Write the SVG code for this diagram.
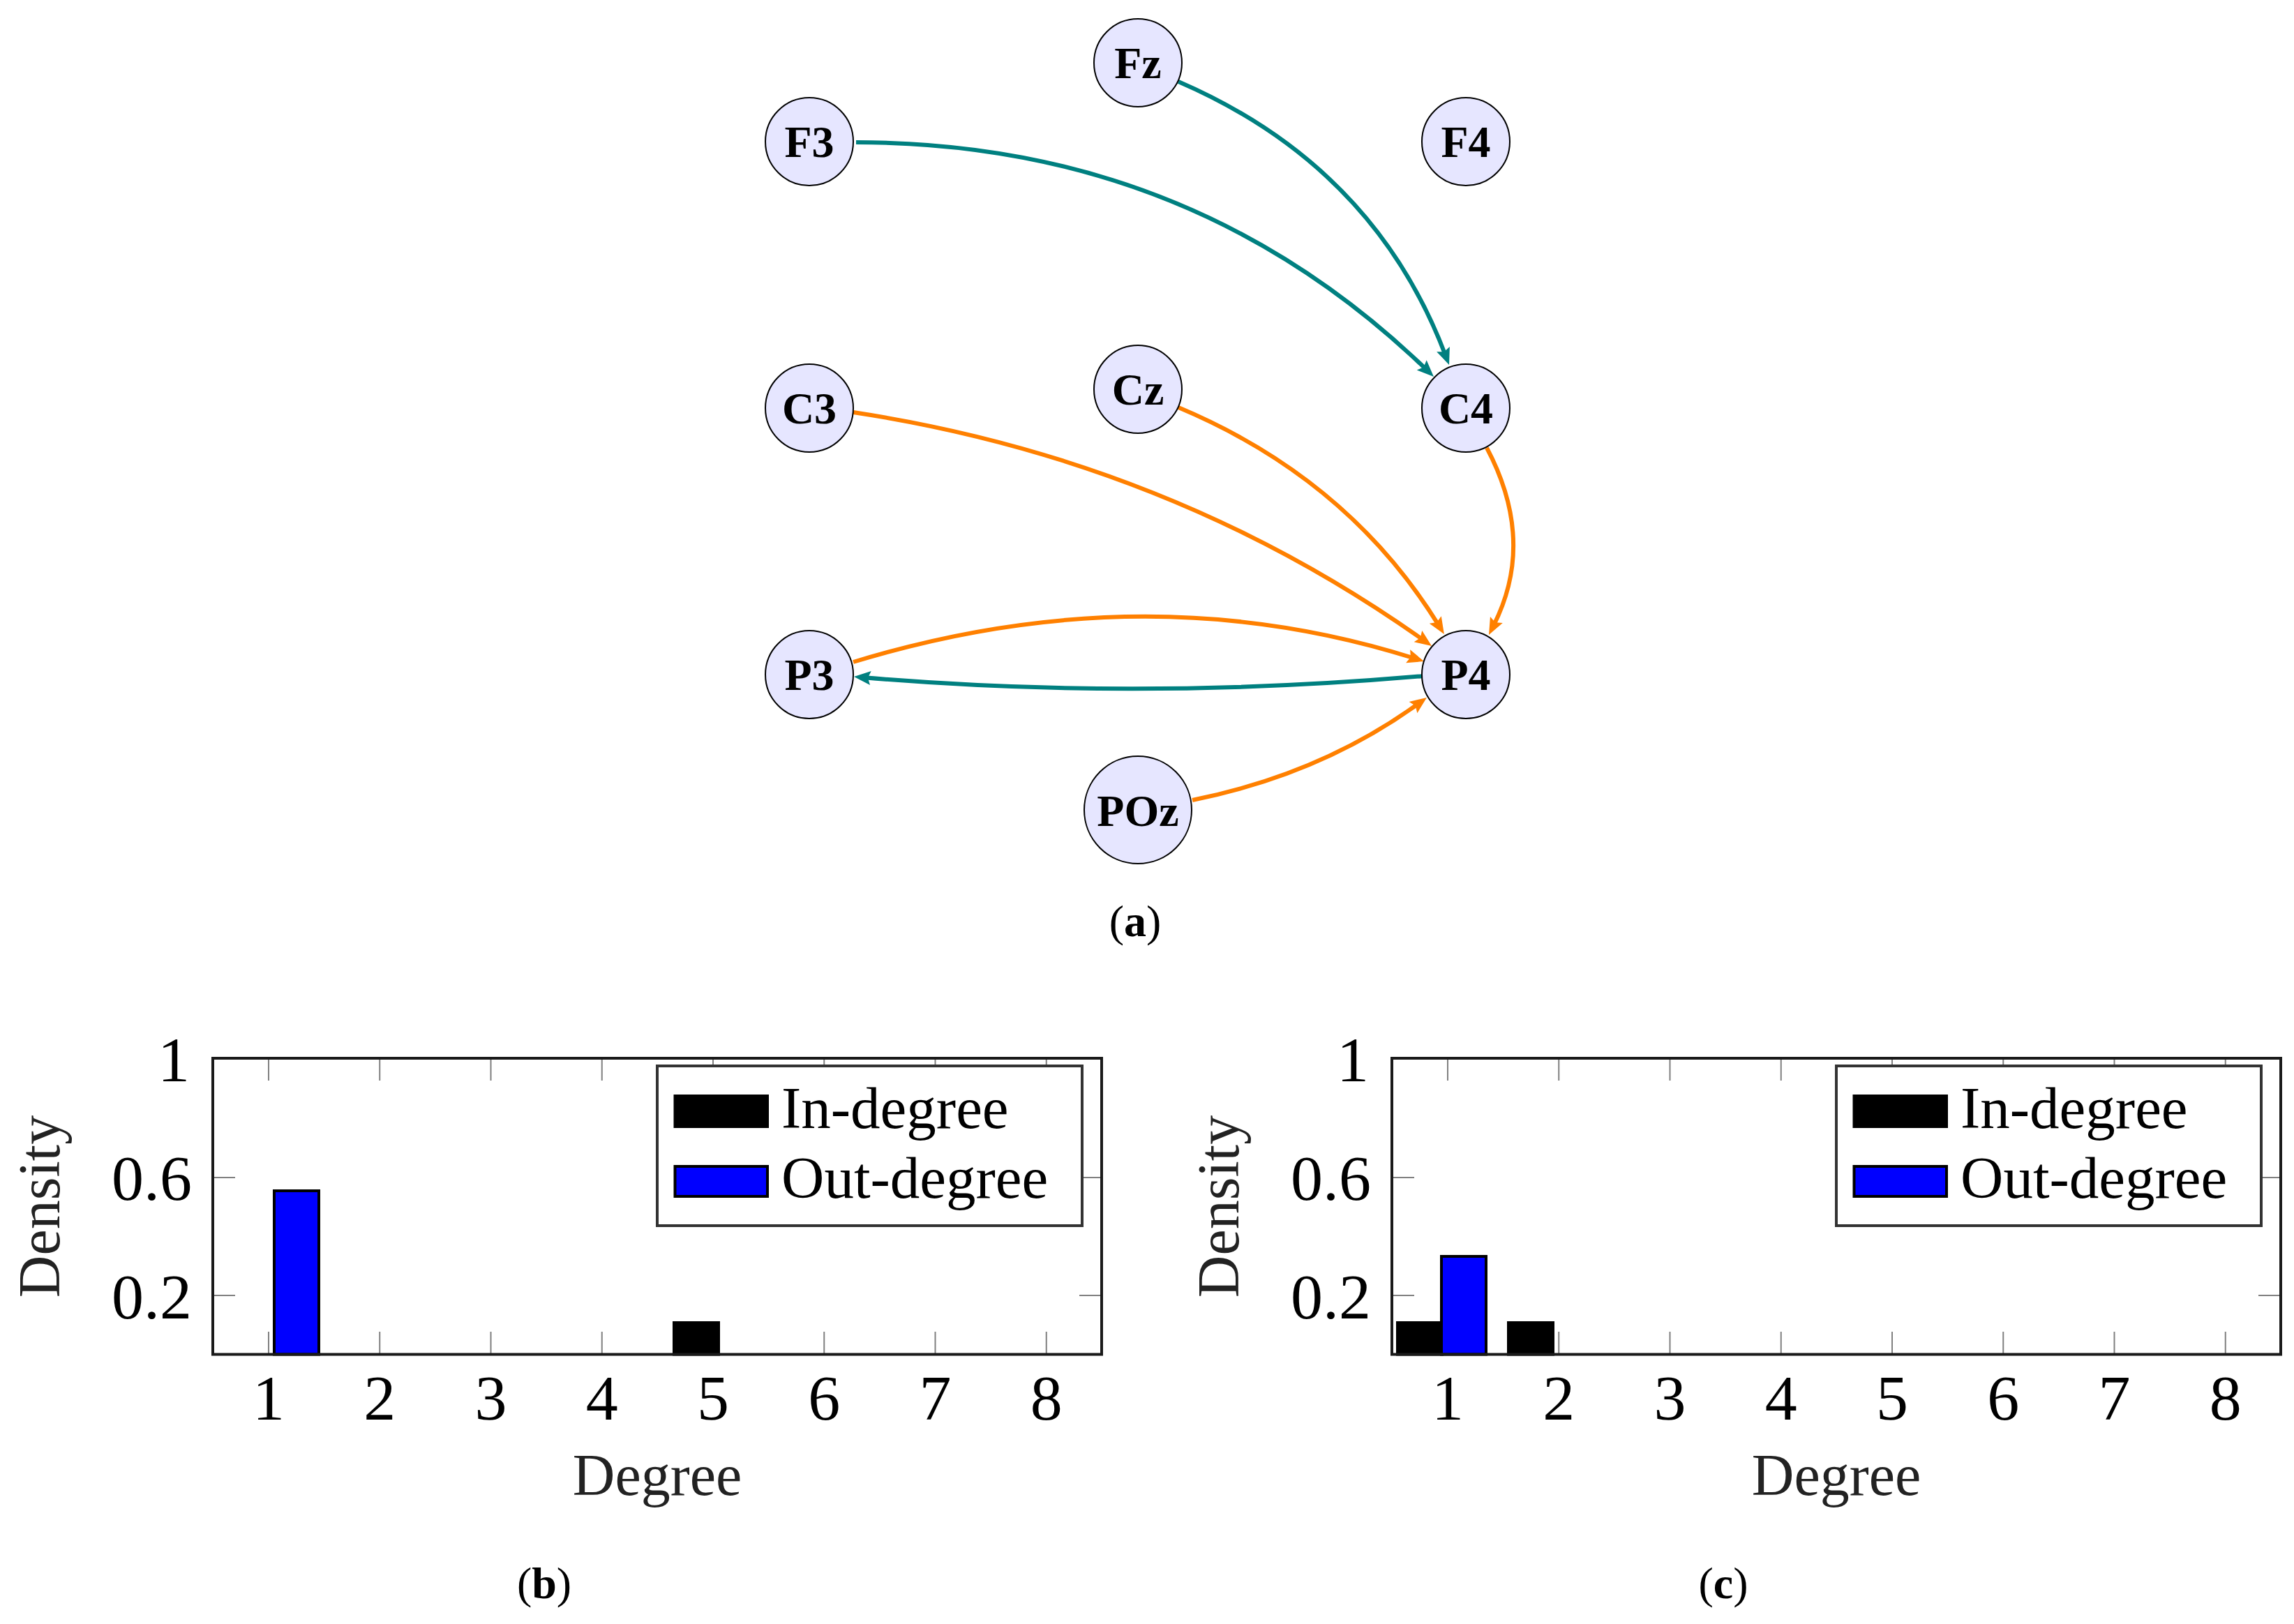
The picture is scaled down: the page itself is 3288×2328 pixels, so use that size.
<svg xmlns="http://www.w3.org/2000/svg" width="3288" height="2328" viewBox="0 0 3288 2328">
<style>
.node circle{fill:#E6E6FF;stroke:#000;stroke-width:2}
.node text{font-family:"Liberation Serif",serif;font-weight:bold;font-size:64px;text-anchor:middle;fill:#000}
.e{fill:none;stroke-width:6}
.teal{stroke:#008080}
.orange{stroke:#FF8000}
.tk{stroke:#808080;stroke-width:2}
.frame{fill:none;stroke:#1a1a1a;stroke-width:4}
.num{font-family:"Liberation Serif",serif;font-size:92px;fill:#000}
.ax{font-family:"Liberation Serif",serif;font-size:84px;fill:#222;text-anchor:middle}
.leg{font-family:"Liberation Serif",serif;font-size:85px;fill:#000}
.cap{font-family:"Liberation Serif",serif;font-size:64px;fill:#000;text-anchor:middle}
.inb{fill:#000;stroke:#000;stroke-width:4}
.outb{fill:#0000FF;stroke:#000;stroke-width:4}
</style>
<defs>
<marker id="at" markerUnits="userSpaceOnUse" orient="auto" refX="0" refY="0" markerWidth="40" markerHeight="40" overflow="visible"><path d="M15,0 L-9,-10 L-5,0 L-9,10 Z" fill="#008080"/></marker>
<marker id="ao" markerUnits="userSpaceOnUse" orient="auto" refX="0" refY="0" markerWidth="40" markerHeight="40" overflow="visible"><path d="M15,0 L-9,-10 L-5,0 L-9,10 Z" fill="#FF8000"/></marker>
</defs>
<rect width="3288" height="2328" fill="#fff"/>
<g id="connectors">
<path class="e teal" d="M1689,117 Q1969,238 2071.7,509" marker-end="url(#at)"/>
<path class="e teal" d="M1227,204 Q1707,204 2044.2,529.6" marker-end="url(#at)"/>
<path class="e orange" d="M1223,591 Q1677,660 2039.8,917.3" marker-end="url(#ao)"/>
<path class="e orange" d="M1689,584 Q1932,686 2062,896.2" marker-end="url(#ao)"/>
<path class="e orange" d="M2131,642 Q2202,776 2140.8,896.6" marker-end="url(#ao)"/>
<path class="e orange" d="M1223,949 Q1640,821.5 2026.7,943.5" marker-end="url(#ao)"/>
<path class="e teal" d="M2041,969 Q1632,1004.5 1238.9,971.3" marker-end="url(#at)"/>
<path class="e orange" d="M1709,1147 Q1893,1110 2032.8,1008.8" marker-end="url(#ao)"/>
</g>
<g id="node-Fz" class="node"><circle cx="1631" cy="90" r="63"/><text x="1631" y="112">Fz</text></g>
<g id="node-F3" class="node"><circle cx="1160" cy="203" r="63"/><text x="1160" y="225">F3</text></g>
<g id="node-F4" class="node"><circle cx="2101" cy="203" r="63"/><text x="2101" y="225">F4</text></g>
<g id="node-C3" class="node"><circle cx="1160" cy="585" r="63"/><text x="1160" y="607">C3</text></g>
<g id="node-Cz" class="node"><circle cx="1631" cy="558" r="63"/><text x="1631" y="580">Cz</text></g>
<g id="node-C4" class="node"><circle cx="2101" cy="585" r="63"/><text x="2101" y="607">C4</text></g>
<g id="node-P3" class="node"><circle cx="1160" cy="967" r="63"/><text x="1160" y="989">P3</text></g>
<g id="node-P4" class="node"><circle cx="2101" cy="967" r="63"/><text x="2101" y="989">P4</text></g>
<g id="node-POz" class="node"><circle cx="1631" cy="1161" r="77"/><text x="1631" y="1184">POz</text></g>
<text class="cap" x="1627" y="1342">(<tspan font-weight="bold">a</tspan>)</text>

<g id="chart-b">
<g class="tk">
<path d="M385,1941 V1909 M544.25,1941 V1909 M703.5,1941 V1909 M862.75,1941 V1909 M1022,1941 V1909 M1181.25,1941 V1909 M1340.5,1941 V1909 M1499.75,1941 V1909"/>
<path d="M385,1517 V1549 M544.25,1517 V1549 M703.5,1517 V1549 M862.75,1517 V1549 M1022,1517 V1549 M1181.25,1517 V1549 M1340.5,1517 V1549 M1499.75,1517 V1549"/>
<path d="M305,1688 H337 M305,1857 H337 M1579,1688 H1547 M1579,1857 H1547"/>
</g>
<rect class="outb" x="393" y="1707" width="64" height="234.5"/>
<rect class="inb" x="966" y="1896" width="64" height="45.5"/>
<rect class="frame" x="305" y="1517" width="1274" height="424.5"/>
<rect x="942" y="1528" width="609" height="229" fill="#fff" stroke="#333" stroke-width="4"/>
<rect class="inb" x="967.5" y="1571" width="132.5" height="44"/>
<rect class="outb" x="967.5" y="1672" width="132.5" height="43"/>
<text class="leg" x="1120" y="1617">In-degree</text>
<text class="leg" x="1120" y="1717">Out-degree</text>
<g class="num" text-anchor="end">
<text x="272" y="1550">1</text>
<text x="275" y="1720">0.6</text>
<text x="275" y="1890">0.2</text>
</g>
<g class="num" text-anchor="middle">
<text x="385" y="2035">1</text><text x="544.25" y="2035">2</text><text x="703.5" y="2035">3</text><text x="862.75" y="2035">4</text><text x="1022" y="2035">5</text><text x="1181.25" y="2035">6</text><text x="1340.5" y="2035">7</text><text x="1499.75" y="2035">8</text>
</g>
<text class="ax" x="942" y="2143">Degree</text>
<text class="ax" transform="translate(85,1729.5) rotate(-90)">Density</text>
<text class="cap" x="780" y="2291">(<tspan font-weight="bold">b</tspan>)</text>
</g>

<g id="chart-c">
<g class="tk">
<path d="M2075,1941 V1909 M2234.25,1941 V1909 M2393.5,1941 V1909 M2552.75,1941 V1909 M2712,1941 V1909 M2871.25,1941 V1909 M3030.5,1941 V1909 M3189.75,1941 V1909"/>
<path d="M2075,1517 V1549 M2234.25,1517 V1549 M2393.5,1517 V1549 M2552.75,1517 V1549 M2712,1517 V1549 M2871.25,1517 V1549 M3030.5,1517 V1549 M3189.75,1517 V1549"/>
<path d="M1995,1688 H2027 M1995,1857 H2027 M3269,1688 H3237 M3269,1857 H3237"/>
</g>
<rect class="inb" x="2003" y="1896" width="64" height="45.5"/>
<rect class="inb" x="2162" y="1896" width="64" height="45.5"/>
<rect class="outb" x="2066" y="1801" width="64" height="140.5"/>
<rect class="frame" x="1995" y="1517" width="1274" height="424.5"/>
<rect x="2632" y="1528" width="609" height="229" fill="#fff" stroke="#333" stroke-width="4"/>
<rect class="inb" x="2657.5" y="1571" width="132.5" height="44"/>
<rect class="outb" x="2657.5" y="1672" width="132.5" height="43"/>
<text class="leg" x="2810" y="1617">In-degree</text>
<text class="leg" x="2810" y="1717">Out-degree</text>
<g class="num" text-anchor="end">
<text x="1962" y="1550">1</text>
<text x="1965" y="1720">0.6</text>
<text x="1965" y="1890">0.2</text>
</g>
<g class="num" text-anchor="middle">
<text x="2075" y="2035">1</text><text x="2234.25" y="2035">2</text><text x="2393.5" y="2035">3</text><text x="2552.75" y="2035">4</text><text x="2712" y="2035">5</text><text x="2871.25" y="2035">6</text><text x="3030.5" y="2035">7</text><text x="3189.75" y="2035">8</text>
</g>
<text class="ax" x="2632" y="2143">Degree</text>
<text class="ax" transform="translate(1775,1729.5) rotate(-90)">Density</text>
<text class="cap" x="2470" y="2291">(<tspan font-weight="bold">c</tspan>)</text>
</g>
</svg>
